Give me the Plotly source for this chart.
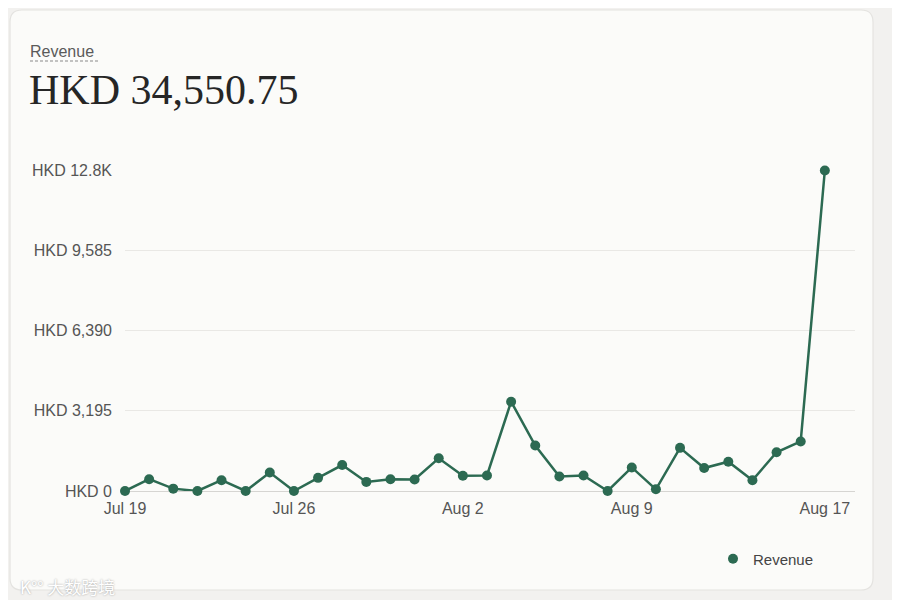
import plotly.graph_objects as go
import pandas as pd

# daily revenue, Jul 19 - Aug 17
dates = pd.date_range("2024-07-19", "2024-08-17", freq="D")
revenue = [0, 471, 94, 0, 430, 0, 739, 0, 524, 1035,
           363, 471, 460, 1303, 605, 618, 3560, 1813, 578, 618,
           0, 940, 67, 1720, 914, 1169, 430, 1545, 1975, 12780]

y_ticks = [0, 3195, 6390, 9585, 12780]
y_labels = ["HKD 0", "HKD 3,195", "HKD 6,390", "HKD 9,585", "HKD 12.8K"]
x_ticks = ["2024-07-19", "2024-07-26", "2024-08-02", "2024-08-09", "2024-08-17"]
x_labels = ["Jul 19", "Jul 26", "Aug 2", "Aug 9", "Aug 17"]

total_label = "HKD 34,550.75"

green = "#2c6a52"
# the page puts the figure 8px in from the window corner
OFF = 8
W, H = 900 - 2 * OFF, 608 - 2 * OFF
# plot area in window pixels: x 125..855, y 170..491
L, T = 125 - OFF, 170 - OFF
R, B = W - (855 - OFF), H - (491 - OFF)
pw, ph = W - L - R, H - T - B


def px(x):
    return (x - OFF - L) / pw


def py(y):
    return (H - B - (y - OFF)) / ph


def rounded_rect(x0, y0, x1, y1, r):
    p = [
        f"M {px(x0 + r)} {py(y0)}",
        f"L {px(x1 - r)} {py(y0)}",
        f"Q {px(x1)} {py(y0)} {px(x1)} {py(y0 + r)}",
        f"L {px(x1)} {py(y1 - r)}",
        f"Q {px(x1)} {py(y1)} {px(x1 - r)} {py(y1)}",
        f"L {px(x0 + r)} {py(y1)}",
        f"Q {px(x0)} {py(y1)} {px(x0)} {py(y1 - r)}",
        f"L {px(x0)} {py(y0 + r)}",
        f"Q {px(x0)} {py(y0)} {px(x0 + r)} {py(y0)}",
        "Z",
    ]
    return " ".join(p)


fig = go.Figure()

fig.add_trace(go.Scatter(
    x=dates, y=revenue, mode="lines",
    line=dict(color=green, width=2.5),
    showlegend=False, cliponaxis=False, hoverinfo="skip"))

fig.add_trace(go.Scatter(
    x=dates, y=revenue, mode="markers", name="Revenue",
    marker=dict(color=green, size=10),
    cliponaxis=False))

# card background
fig.add_shape(type="path", xref="paper", yref="paper", layer="below",
              path=rounded_rect(10, 10, 873, 590, 12),
              fillcolor="#fbfbf9", line=dict(color="#e4e3e0", width=1.2))

# dashed underline under the title
fig.add_shape(type="line", xref="paper", yref="paper",
              x0=px(30), x1=px(99), y0=py(61), y1=py(61),
              line=dict(color="#8a8a8a", width=1.2, dash="3px,2px"))

fig.add_annotation(text="Revenue", xref="paper", yref="paper",
                   x=px(28), y=py(51), xanchor="left", yanchor="middle",
                   showarrow=False,
                   font=dict(family="Liberation Sans, Arial", size=16, color="#5a5a5a"))

fig.add_annotation(text=total_label, xref="paper", yref="paper",
                   x=px(27), y=py(90), xanchor="left", yanchor="middle",
                   showarrow=False,
                   font=dict(family="Liberation Serif, Times New Roman", size=42, color="#262626"))

# watermark
fig.add_annotation(text="K°° 大数跨境", xref="paper", yref="paper",
                   x=px(18), y=py(586), xanchor="left", yanchor="middle",
                   showarrow=False,
                   font=dict(family="Noto Sans CJK SC", size=17, color="#ffffff",
                             shadow="0px 0px 2px #9a9a9a"))

fig.update_xaxes(
    type="date",
    range=[dates[0], dates[-1] + pd.Timedelta(hours=30)],
    tickvals=x_ticks, ticktext=x_labels,
    showgrid=False, zeroline=False, showline=False,
    ticks="", ticklabelstandoff=6,
    tickfont=dict(family="Liberation Sans, Arial", size=16, color="#555555"),
)

fig.update_yaxes(
    range=[0, 12800],
    tickvals=y_ticks, ticktext=y_labels,
    showgrid=True, gridcolor="#e9e8e5", gridwidth=1,
    zeroline=True, zerolinecolor="#d6d5d2", zerolinewidth=1,
    showline=False, ticks="", ticklabelstandoff=12,
    tickfont=dict(family="Liberation Sans, Arial", size=16, color="#555555"),
)

fig.update_layout(
    width=W, height=H,
    margin=dict(l=L, r=R, t=T, b=B),
    paper_bgcolor="#f2f1ef",
    plot_bgcolor="rgba(0,0,0,0)",
    showlegend=True,
    legend=dict(x=px(713), y=py(559), xanchor="left", yanchor="middle",
                bgcolor="rgba(0,0,0,0)",
                font=dict(family="Liberation Sans, Arial", size=15, color="#444444")),
    hovermode="closest",
)

fig.write_html("out.html")
